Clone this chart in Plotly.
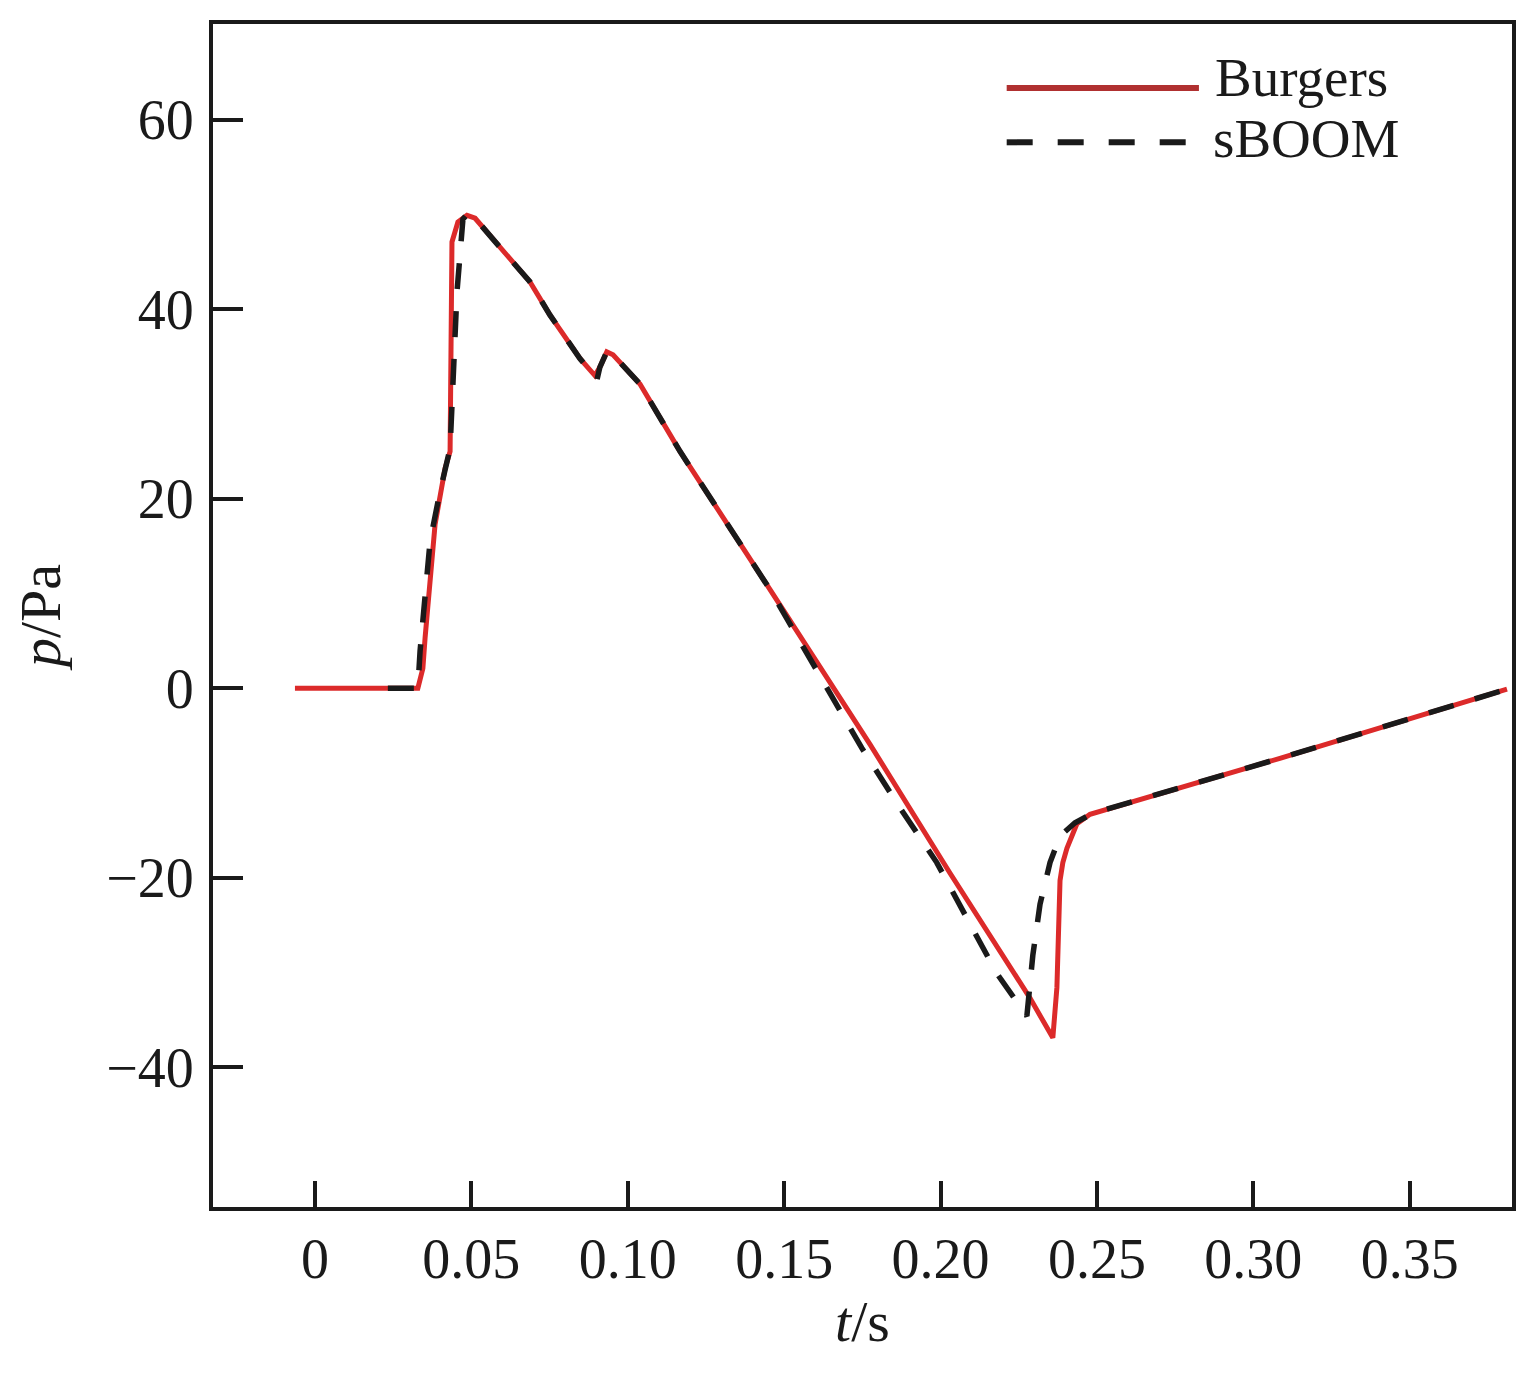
import plotly.graph_objects as go

# Burgers (red solid)
burgers_t = [-0.0064, 0.0329, 0.0345, 0.0352, 0.0384, 0.0416, 0.0432, 0.0438, 0.0457, 0.0486,
             0.0512, 0.0569, 0.0687, 0.0751, 0.0847, 0.0895, 0.0911, 0.0933, 0.0953, 0.1039,
             0.1167, 0.1455, 0.1774, 0.2030, 0.2286, 0.2359, 0.2366, 0.2372, 0.2382, 0.2391,
             0.2404, 0.2436, 0.2478, 0.3085, 0.3811]
burgers_p = [0.0, 0.0, 2.1, 5.3, 17.3, 23.2, 25.0, 47.1, 49.2, 49.9,
             49.6, 47.4, 42.9, 39.4, 34.8, 33.0, 33.9, 35.5, 35.2, 32.1,
             25.0, 10.4, -5.9, -19.5, -32.7, -36.9, -34.0, -31.6, -20.3, -18.4,
             -16.9, -14.3, -13.3, -7.4, -0.1]

# sBOOM (black dashed)
sboom_t = [0.0233, 0.0329, 0.0336, 0.0368, 0.0400, 0.0432, 0.0454, 0.0473, 0.0486,
           0.0512, 0.0569, 0.0687, 0.0751, 0.0847, 0.0902, 0.0911, 0.0933, 0.0953, 0.1039,
           0.1167, 0.1455, 0.1748, 0.1870, 0.1988, 0.2180, 0.2276, 0.2295, 0.2318, 0.2350,
           0.2382, 0.2430, 0.2487, 0.3085, 0.3811]
sboom_p = [0.0, 0.0, 3.9, 15.5, 20.8, 25.3, 41.8, 49.5, 50.0,
           49.6, 47.4, 42.9, 39.4, 34.8, 32.6, 33.9, 35.5, 35.2, 32.1,
           25.0, 10.4, -6.3, -12.6, -18.4, -30.1, -34.6, -28.2, -22.8, -18.4,
           -15.6, -14.2, -13.2, -7.4, -0.1]

x_tickvals = [0, 0.05, 0.10, 0.15, 0.20, 0.25, 0.30, 0.35]
x_ticktext = ["0", "0.05", "0.10", "0.15", "0.20", "0.25", "0.30", "0.35"]
y_tickvals = [-40, -20, 0, 20, 40, 60]

series_names = ["Burgers", "sBOOM"]
RED = "#dc2a2a"
BLACK = "#1a1a1a"
FONT = "Liberation Serif"

fig = go.Figure()
fig.add_trace(go.Scatter(x=burgers_t, y=burgers_p, mode="lines", name=series_names[0],
                         line=dict(color=RED, width=5), showlegend=False))
fig.add_trace(go.Scatter(x=sboom_t, y=sboom_p, mode="lines", name=series_names[1],
                         line=dict(color=BLACK, width=5.5, dash="26px,22px"), showlegend=False))

# manual legend (long line samples as in the reference)
fig.add_shape(type="line", xref="paper", yref="paper", x0=0.611, x1=0.759, y0=0.946, y1=0.946,
              line=dict(color="#b03030", width=6))
fig.add_shape(type="line", xref="paper", yref="paper", x0=0.611, x1=0.759, y0=0.900, y1=0.900,
              line=dict(color=BLACK, width=6, dash="26px,25px"))
fig.add_annotation(xref="paper", yref="paper", x=0.770, y=0.955, xanchor="left", yanchor="middle",
                   text=series_names[0], showarrow=False, font=dict(family=FONT, size=55, color=BLACK))
fig.add_annotation(xref="paper", yref="paper", x=0.768, y=0.903, xanchor="left", yanchor="middle",
                   text=series_names[1], showarrow=False, font=dict(family=FONT, size=55, color=BLACK))

axis_common = dict(showline=True, linecolor=BLACK, linewidth=4, mirror=True,
                   ticks="inside", tickcolor=BLACK, tickwidth=4,
                   showgrid=False, zeroline=False,
                   tickfont=dict(family=FONT, size=56, color=BLACK))

fig.update_xaxes(range=[-0.0326, 0.3827], tickvals=x_tickvals, ticktext=x_ticktext, ticklen=26,
                 title=dict(text="<i>t</i>/s", font=dict(family=FONT, size=58, color=BLACK), standoff=12),
                 **axis_common)
fig.update_yaxes(range=[-54.75, 70.1], tickvals=y_tickvals, ticklen=30, ticklabelstandoff=4,
                 title=dict(text="<i>p</i>/Pa", font=dict(family=FONT, size=58, color=BLACK), standoff=36),
                 **axis_common)

fig.update_layout(width=1530, height=1365, plot_bgcolor="white", paper_bgcolor="white",
                  margin=dict(l=205, r=26, t=14, b=166), showlegend=False)

fig.write_html("out.html")
